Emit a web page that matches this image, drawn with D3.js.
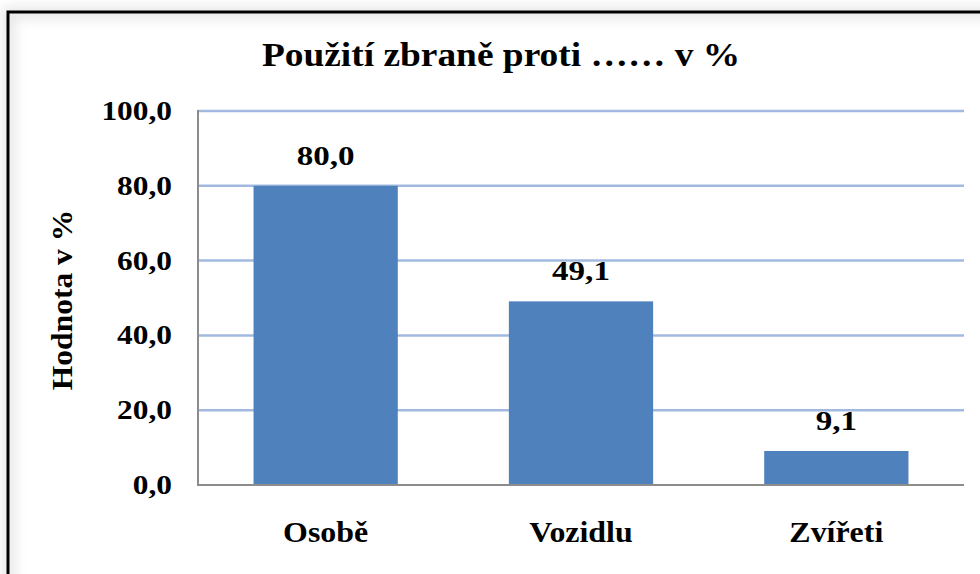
<!DOCTYPE html>
<html lang="cs">
<head>
  <meta charset="utf-8">
  <title>Použití zbraně proti</title>
  <script src="https://cdn.jsdelivr.net/npm/d3@7"></script>
  <style>
    body { margin: 0; background: #fff; }
    text { font-family: "Liberation Serif", "Times New Roman", serif; font-weight: bold; fill: #000; }
  </style>
</head>
<body>
  <div id="graphic"></div>

  <script>
    // data
    var categories = ["Osobě", "Vozidlu", "Zvířeti"];
    var values = [80.0, 49.1, 9.1];
    var yTicks = [0, 20, 40, 60, 80, 100];

    var width = 980, height = 574;
    var margin = {top: 111, right: 16, bottom: 89, left: 198};

    var svg = d3.select('#graphic').append('svg')
      .attr('width', width)
      .attr('height', height);

    // the original text is a bit wider than the serif we have, stretch it
    function stretch(sel, k) {
      sel.each(function() {
        var w = this.getComputedTextLength();
        d3.select(this).attr('textLength', w * k).attr('lengthAdjust', 'spacingAndGlyphs');
      });
    }

    // frame with soft inner shadow
    var defs = svg.append('defs');
    var f = defs.append('filter').attr('id', 'inshadow')
      .attr('x', '-5%').attr('y', '-5%').attr('width', '110%').attr('height', '110%');
    f.append('feGaussianBlur').attr('in', 'SourceGraphic').attr('stdDeviation', 6);

    svg.append('rect')
      .attr('x', 9).attr('y', 13)
      .attr('width', width + 20).attr('height', height + 20)
      .attr('fill', 'none')
      .attr('stroke', '#e6e6e6')
      .attr('stroke-width', 12)
      .attr('filter', 'url(#inshadow)');

    svg.append('rect')
      .attr('x', 8).attr('y', 12)
      .attr('width', width + 20).attr('height', height + 20)
      .attr('fill', 'none')
      .attr('stroke', '#000')
      .attr('stroke-width', 3);

    var x = d3.scaleBand()
      .domain(categories)
      .range([margin.left, width - margin.right])
      .paddingInner(0.435)
      .paddingOuter(0.2175);

    var y = d3.scaleLinear()
      .domain([0, 100])
      .range([height - margin.bottom, margin.top]);

    // gridlines
    svg.append('g')
      .selectAll('line')
      .data(yTicks.filter(function(d){ return d > 0; }))
      .enter().append('line')
      .attr('x1', margin.left)
      .attr('x2', width - margin.right)
      .attr('y1', function(d){ return y(d); })
      .attr('y2', function(d){ return y(d); })
      .attr('stroke', '#a2badf')
      .attr('stroke-width', 2.5);

    // bars
    svg.append('g')
      .selectAll('rect')
      .data(values)
      .enter().append('rect')
      .attr('x', function(d, i){ return x(categories[i]); })
      .attr('y', function(d){ return y(d); })
      .attr('width', x.bandwidth())
      .attr('height', function(d){ return y(0) - y(d); })
      .attr('fill', '#4f81bd');

    // axes lines
    svg.append('line')
      .attr('x1', margin.left).attr('x2', margin.left)
      .attr('y1', y(100) - 1).attr('y2', y(0) + 1)
      .attr('stroke', '#8c8c8c').attr('stroke-width', 2);
    svg.append('line')
      .attr('x1', margin.left - 1).attr('x2', width - margin.right)
      .attr('y1', y(0)).attr('y2', y(0))
      .attr('stroke', '#8c8c8c').attr('stroke-width', 2);

    var fmt = function(d){ return d3.format('.1f')(d).replace('.', ','); };

    // y tick labels
    svg.append('g')
      .selectAll('text')
      .data(yTicks)
      .enter().append('text')
      .attr('x', 172)
      .attr('y', function(d){ return y(d) + 9; })
      .attr('text-anchor', 'end')
      .style('font-size', '28px')
      .text(fmt)
      .call(stretch, 1.12);

    // value labels
    svg.append('g')
      .selectAll('text')
      .data(values)
      .enter().append('text')
      .attr('x', function(d, i){ return x(categories[i]) + x.bandwidth() / 2; })
      .attr('y', function(d){ return y(d) - 21; })
      .attr('text-anchor', 'middle')
      .style('font-size', '28px')
      .text(fmt)
      .call(stretch, 1.18);

    // category labels
    svg.append('g')
      .selectAll('text')
      .data(categories)
      .enter().append('text')
      .attr('x', function(d){ return x(d) + x.bandwidth() / 2; })
      .attr('y', 542)
      .attr('text-anchor', 'middle')
      .style('font-size', '29px')
      .text(function(d){ return d; })
      .call(stretch, 1.1);

    // title
    svg.append('text')
      .attr('x', 501)
      .attr('y', 66)
      .attr('text-anchor', 'middle')
      .style('font-size', '34px')
      .text('Použití zbraně proti ……  v %')
      .call(stretch, 1.1);

    // y axis title
    svg.append('text')
      .attr('transform', 'translate(72,300) rotate(-90)')
      .attr('text-anchor', 'middle')
      .style('font-size', '30px')
      .text('Hodnota v %')
      .call(stretch, 1.05);
  </script>
</body>
</html>
